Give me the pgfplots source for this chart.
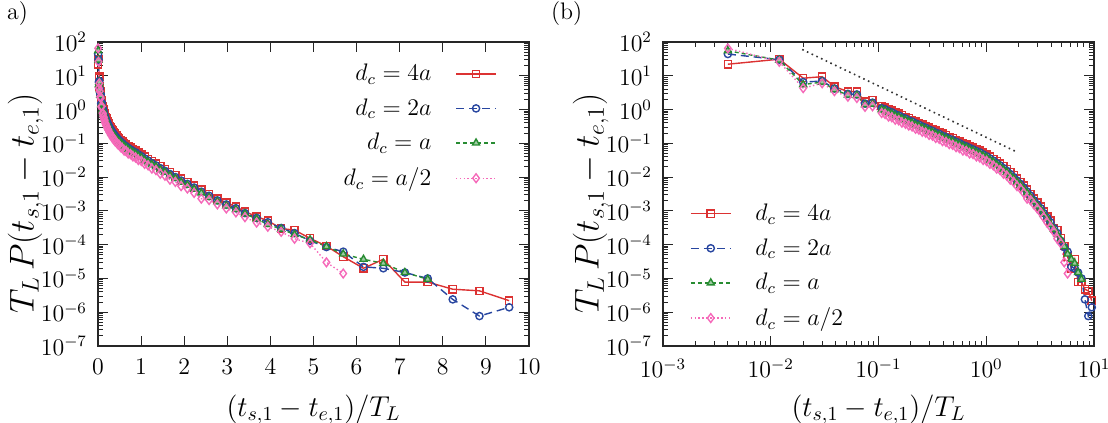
\documentclass[border=0pt]{standalone}
\usepackage{pgfplots}
\usepackage{pgfplotstable}
\pgfplotsset{compat=1.18}
\definecolor{cred}{RGB}{220,50,50}
\definecolor{cblue}{RGB}{40,70,160}
\definecolor{cgreen}{RGB}{40,140,50}
\definecolor{cpink}{RGB}{245,105,185}

\pgfplotstableread{
x y
0.004 22
0.012 31
0.020 8.5
0.030 9.4
0.039 4.8
0.052 3.4
0.063 3.4
0.075 1.7
0.088 1.9
0.107 1.27
0.115 1.15
0.124 1.03
0.133 0.93
0.143 0.835
0.154 0.75
0.165 0.678
0.178 0.608
0.191 0.549
0.205 0.495
0.221 0.444
0.237 0.401
0.255 0.361
0.274 0.325
0.295 0.292
0.317 0.263
0.340 0.238
0.366 0.214
0.393 0.193
0.423 0.173
0.454 0.156
0.488 0.141
0.525 0.127
0.564 0.114
0.607 0.1026
0.652 0.0925
0.701 0.0833
0.754 0.0749
0.810 0.0675
0.871 0.0608
0.936 0.0537
1.006 0.047
1.082 0.0406
1.163 0.0348
1.25 0.0296
1.344 0.0251
1.445 0.021
1.553 0.0173
1.67 0.0141
1.795 0.01127
1.929 0.00902
2.074 0.00715
2.23 0.00556
2.397 0.00426
2.577 0.00318
2.77 0.00234
2.977 0.00176
3.2 1.33e-3
3.41 9.5e-4
3.68 6.8e-4
3.94 5.1e-4
4.25 3.0e-4
4.56 2.7e-4
4.92 1.54e-4
5.30 9.1e-5
5.69 4.4e-5
6.16 2.0e-5
6.62 3.7e-5
7.12 7.8e-6
7.65 7.8e-6
8.23 4.8e-6
8.85 4.3e-6
9.54 2.2e-6
}\dfour

\pgfplotstableread{
x y
0.004 44
0.012 30
0.020 6.5
0.030 7.0
0.039 4.2
0.052 2.9
0.063 2.8
0.075 1.5
0.088 1.6
0.107 1.10
0.115 1.02
0.124 0.90
0.133 0.83
0.143 0.73
0.154 0.67
0.165 0.59
0.178 0.54
0.191 0.48
0.205 0.44
0.221 0.39
0.237 0.355
0.255 0.316
0.274 0.288
0.295 0.255
0.317 0.233
0.340 0.207
0.366 0.190
0.393 0.168
0.423 0.153
0.454 0.136
0.488 0.125
0.525 0.111
0.564 0.101
0.607 0.089
0.652 0.082
0.701 0.073
0.754 0.066
0.810 0.059
0.871 0.054
0.936 0.047
1.006 0.0415
1.082 0.0355
1.163 0.0307
1.25 0.0259
1.344 0.0222
1.445 0.0184
1.553 0.0153
1.67 0.0123
1.795 0.0100
1.929 0.0079
2.074 0.0063
2.23 0.0049
2.397 0.0037
2.577 0.0028
2.77 0.00205
2.977 0.00155
3.2 1.2e-3
3.41 8.6e-4
3.68 6.2e-4
3.94 4.6e-4
4.25 3.1e-4
4.56 2.2e-4
4.92 1.3e-4
5.30 8.5e-5
5.69 6.2e-5
6.16 2.2e-5
6.62 2.0e-5
7.12 1.5e-5
7.65 1.0e-5
8.23 2.4e-6
8.85 7.7e-7
9.54 1.4e-6
}\dtwo

\pgfplotstableread{
x y
0.004 55
0.012 29
0.020 5.5
0.030 6.5
0.039 3.9
0.052 2.7
0.063 2.6
0.075 1.4
0.088 1.45
0.107 1.00
0.115 0.93
0.124 0.81
0.133 0.75
0.143 0.66
0.154 0.61
0.165 0.535
0.178 0.49
0.191 0.435
0.205 0.40
0.221 0.35
0.237 0.325
0.255 0.285
0.274 0.263
0.295 0.231
0.317 0.212
0.340 0.188
0.366 0.173
0.393 0.152
0.423 0.139
0.454 0.123
0.488 0.114
0.525 0.101
0.564 0.092
0.607 0.081
0.652 0.075
0.701 0.066
0.754 0.060
0.810 0.0535
0.871 0.049
0.936 0.0425
1.006 0.038
1.082 0.032
1.163 0.028
1.25 0.0234
1.344 0.0203
1.445 0.0166
1.553 0.0140
1.67 0.0111
1.795 0.0091
1.929 0.0071
2.074 0.0058
2.23 0.0044
2.397 0.0034
2.577 0.0025
2.77 0.00188
2.977 0.0014
3.2 1.1e-3
3.41 8.2e-4
3.68 5.8e-4
3.94 4.0e-4
4.25 2.9e-4
4.56 2.0e-4
4.92 1.4e-4
5.30 8.8e-5
5.69 5.3e-5
6.16 3.7e-5
6.62 2.8e-5
7.12 1.5e-5
7.65 9.5e-6
}\done

\pgfplotstableread{
x y
0.004 65
0.012 26
0.020 4.3
0.030 6.0
0.039 3.5
0.052 2.4
0.063 2.2
0.075 1.2
0.088 1.25
0.107 0.79
0.115 0.74
0.124 0.62
0.133 0.59
0.143 0.50
0.154 0.48
0.165 0.41
0.178 0.38
0.191 0.336
0.205 0.314
0.221 0.27
0.237 0.254
0.255 0.22
0.274 0.206
0.295 0.178
0.317 0.168
0.340 0.144
0.366 0.136
0.393 0.116
0.423 0.110
0.454 0.095
0.488 0.090
0.525 0.077
0.564 0.072
0.607 0.061
0.652 0.059
0.701 0.050
0.754 0.048
0.810 0.041
0.871 0.038
0.936 0.032
1.006 0.030
1.082 0.0246
1.163 0.0222
1.25 0.0178
1.344 0.0161
1.445 0.0126
1.553 0.0110
1.67 0.0084
1.795 0.0072
1.929 0.0054
2.074 0.0046
2.23 0.0034
2.397 0.0023
2.577 0.0021
2.77 0.00156
2.977 0.00118
3.2 9.0e-4
3.41 6.5e-4
3.68 4.5e-4
3.94 3.4e-4
4.25 2.4e-4
4.56 1.5e-4
4.92 1.1e-4
5.30 3.0e-5
5.69 1.4e-5
}\dhalf

\tikzset{
 sred/.style={cred, line width=0.7bp, mark=square, mark size=1.8bp, mark options={solid}},
 sblue/.style={cblue, line width=0.7bp, dash pattern=on 4bp off 2.5bp, mark=o, mark size=1.8bp, mark options={solid}},
 sgreen/.style={cgreen, line width=0.7bp, dash pattern=on 2bp off 1.5bp, mark=triangle*, mark size=2bp, mark options={solid, fill=cgreen!45}},
 spink/.style={cpink, line width=0.7bp, dash pattern=on 0.7bp off 1.2bp, mark=diamond, mark size=2.2bp, mark options={solid}},
}

\newcommand{\tickfont}{\fontsize{12}{14}\selectfont}
\newcommand{\labfont}{\fontsize{14.4}{17}\selectfont}
\newcommand{\ylabfont}{\fontsize{17.28}{20}\selectfont}

\begin{document}
\begin{tikzpicture}
\useasboundingbox (0,0) rectangle (554bp,211.5bp);
\node[anchor=west, font=\tickfont] at (0bp,204.5bp) {a)};
\node[anchor=west, font=\tickfont] at (272bp,204.5bp) {(b)};

\begin{axis}[at={(49bp,38.5bp)}, anchor=south west,
  scale only axis, width=215.5bp, height=152bp,
  ymode=log, ymin=1e-7, ymax=1e2,
  ytick={1e-7,1e-6,1e-5,1e-4,1e-3,1e-2,1e-1,1,1e1,1e2},
  xmin=0, xmax=10, xtick={0,1,...,10},
  tick align=inside, major tick length=5bp, minor tick length=2.5bp,
  axis line style={line width=0.8bp, black!85},
  every tick/.style={black!85, line width=0.5bp},
  tick label style={font=\tickfont},
  xticklabel style={yshift=-3bp},
  yticklabel style={xshift=-2bp},
  ylabel={$T_L\,P(t_{s,1}-t_{e,1})$},
  xlabel={$(t_{s,1}-t_{e,1})/T_L$},
  xlabel style={font=\labfont, at={(axis description cs:0.5,-0.21)}, anchor=center},
  ylabel style={font=\ylabfont, at={(axis description cs:-0.168,0.47)}, anchor=center},
  legend image code/.code={
   \draw[mark repeat=2,mark phase=2] plot coordinates {(0bp,0bp) (10bp,0bp) (20bp,0bp)};},
  legend plot pos=right, legend cell align=right,
  legend style={draw=none, fill=none, font=\tickfont, row sep=3.5bp, column sep=10bp, at={(axis description cs:0.94,0.955)}, anchor=north east}]
\addplot[sred] table {\dfour};
\addlegendentry{$d_c = 4a$}
\addplot[sblue] table {\dtwo};
\addlegendentry{$d_c = 2a$}
\addplot[sgreen] table {\done};
\addlegendentry{$d_c = a$}
\addplot[spink] table {\dhalf};
\addlegendentry{$d_c = a/2$}
\end{axis}

\begin{axis}[at={(331.5bp,38.5bp)}, anchor=south west,
  scale only axis, width=215.5bp, height=152bp,
  ymode=log, ymin=1e-7, ymax=1e2,
  ytick={1e-7,1e-6,1e-5,1e-4,1e-3,1e-2,1e-1,1,1e1,1e2},
  xmode=log, xmin=1e-3, xmax=10, xtick={1e-3,1e-2,1e-1,1,10},
  tick align=inside, major tick length=5bp, minor tick length=2.5bp,
  axis line style={line width=0.8bp, black!85},
  every tick/.style={black!85, line width=0.5bp},
  tick label style={font=\tickfont},
  xticklabel style={yshift=-3bp},
  yticklabel style={xshift=-2bp},
  ylabel={$T_L\,P(t_{s,1}-t_{e,1})$},
  xlabel={$(t_{s,1}-t_{e,1})/T_L$},
  xlabel style={font=\labfont, at={(axis description cs:0.5,-0.21)}, anchor=center},
  ylabel style={font=\ylabfont, at={(axis description cs:-0.168,0.47)}, anchor=center},
  legend image code/.code={
   \draw[mark repeat=2,mark phase=2] plot coordinates {(0bp,0bp) (10bp,0bp) (20bp,0bp)};},
  legend cell align=left,
  legend style={draw=none, fill=none, font=\tickfont, row sep=3.5bp, column sep=10bp, at={(axis description cs:0.048,0.03)}, anchor=south west}]
\addplot[sred] table {\dfour};
\addlegendentry{$d_c = 4a$}
\addplot[sblue] table {\dtwo};
\addlegendentry{$d_c = 2a$}
\addplot[sgreen] table {\done};
\addlegendentry{$d_c = a$}
\addplot[spink] table {\dhalf};
\addlegendentry{$d_c = a/2$}
\addplot[black!80, line width=0.8bp, dash pattern=on 0.8bp off 1.8bp, forget plot] coordinates {(0.0196,60) (1.91,0.056)};
\end{axis}
\end{tikzpicture}
\end{document}
